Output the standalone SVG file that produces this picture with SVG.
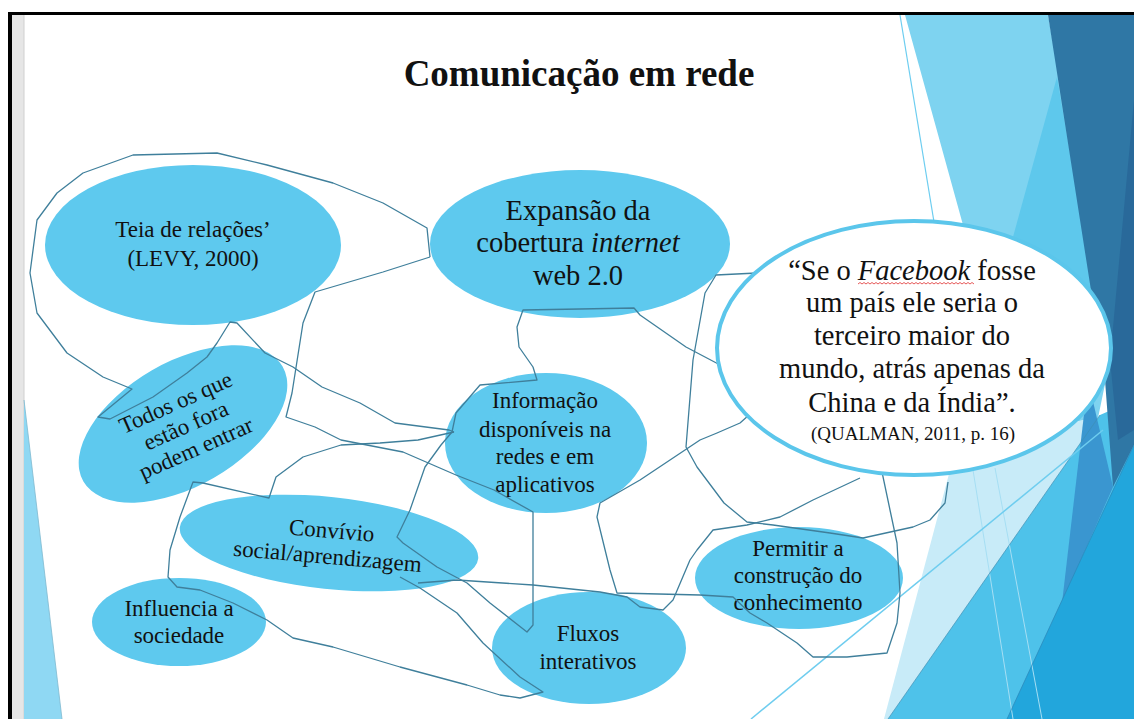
<svg xmlns="http://www.w3.org/2000/svg" width="1134" height="719" viewBox="0 0 1134 719">
<style>
.node{fill:#5ec9ee}
.t{font-family:"Liberation Serif","Times New Roman",serif;fill:#111;text-anchor:middle}
.s23{font-size:23px}
.s28{font-size:28.5px}
.con{fill:none;stroke:#3f7f9b;stroke-width:1.3;stroke-linejoin:round}
</style>
<rect width="1134" height="719" fill="#fff"/>
<!-- frame -->
<rect x="12" y="15" width="12" height="704" fill="#e6e6e6"/>
<line x1="24" y1="15" x2="24" y2="719" stroke="#d0d0d0"/>
<rect x="8" y="12" width="1126" height="3" fill="#000"/>
<rect x="8" y="12" width="4" height="707" fill="#000"/>
<!-- decoration left -->
<polygon points="24,400 62,719 24,719" fill="#8fd8f3"/>
<line x1="24" y1="400" x2="62" y2="719" stroke="#7fb9cf" stroke-width="0.8"/>
<!-- decoration right -->
<g id="decor">
<polygon points="905,15 1048,15 1110,360 1098,418 958,440 963,225" fill="#7ed3f0"/>
<line x1="900" y1="15" x2="934" y2="222" stroke="#6ccdf0" stroke-width="1.2"/>
<polygon points="1057,77 1013,237 990,330 1100,330" fill="#5ec8ec"/>
<polygon points="958,440 1098,418 888,719 884,719" fill="#c8ebf8"/>
<polygon points="888,719 1100,415 1134,400 1134,719" fill="#4ec2ea"/>
<polygon points="1088,380 1062,603 1113,487" fill="#3a96d0"/>
<polygon points="1048,15 1134,15 1134,445 1113,487 1105,380" fill="#2f77a5"/>
<polygon points="1134,100 1110,360 1118,440 1134,430" fill="#29699a"/>
<polygon points="1007,719 1113,490 1134,445 1134,719" fill="#22a6dc"/>
<line x1="973" y1="470" x2="1013" y2="719" stroke="#a6def3" stroke-width="1"/>
<line x1="995" y1="468" x2="1042" y2="719" stroke="#a6def3" stroke-width="1"/>
<line x1="888" y1="719" x2="1100" y2="415" stroke="#3d8fb5" stroke-width="0.7"/>
<line x1="1007" y1="719" x2="1134" y2="445" stroke="#2c86b8" stroke-width="0.7"/>
<line x1="751" y1="719" x2="1103" y2="430" stroke="#6fcdef" stroke-width="1.5"/>
</g>
<!-- title -->
<text class="t" x="579" y="86" font-size="37" font-weight="bold">Comunicação em rede</text>
<!-- nodes -->
<g id="n-teia">
<ellipse class="node" cx="193" cy="245" rx="148" ry="80"/>
<text class="t s23" x="193" y="237">Teia de relações’</text>
<text class="t s23" x="193" y="266">(LEVY, 2000)</text>
</g>
<g id="n-expansao">
<ellipse class="node" cx="580" cy="244" rx="150" ry="74"/>
<text class="t s28" x="578" y="220">Expansão da</text>
<text class="t s28" x="578" y="252">cobertura <tspan font-style="italic">internet</tspan></text>
<text class="t s28" x="578" y="285">web 2.0</text>
</g>
<g id="n-todos">
<ellipse class="node" cx="183" cy="424" rx="115" ry="62" transform="rotate(-30 183 424)"/>
<g transform="translate(186,426) rotate(-24)">
<text class="t s23" x="0" y="-18">Todos os que</text>
<text class="t s23" x="0" y="7">estão fora</text>
<text class="t s23" x="0" y="32">podem entrar</text>
</g>
</g>
<g id="n-informacao">
<ellipse class="node" cx="546" cy="443" rx="101" ry="70"/>
<text class="t s23" x="545" y="408">Informação</text>
<text class="t s23" x="545" y="437">disponíveis na</text>
<text class="t s23" x="545" y="464">redes e em</text>
<text class="t s23" x="545" y="492">aplicativos</text>
</g>
<g id="n-convivio">
<ellipse class="node" cx="329" cy="543" rx="150" ry="46" transform="rotate(6 329 543)"/>
<g transform="rotate(5 329 551)">
<text class="t s23" x="330" y="538">Convívio</text>
<text class="t s23" x="328" y="564">social/aprendizagem</text>
</g>
</g>
<g id="n-influencia">
<ellipse class="node" cx="179" cy="622" rx="87" ry="44"/>
<text class="t s23" x="179" y="616">Influencia a</text>
<text class="t s23" x="179" y="643">sociedade</text>
</g>
<g id="n-fluxos">
<ellipse class="node" cx="589" cy="648" rx="97" ry="56"/>
<text class="t s23" x="588" y="641">Fluxos</text>
<text class="t s23" x="588" y="669">interativos</text>
</g>
<g id="n-permitir">
<ellipse class="node" cx="799" cy="578" rx="104" ry="51"/>
<text class="t s23" x="798" y="556">Permitir a</text>
<text class="t s23" x="798" y="583">construção do</text>
<text class="t s23" x="798" y="610">conhecimento</text>
</g>
<!-- connectors -->
<g id="connectors">
<polyline class="con" points="430,257 427,228 383,203 333,183 267,165 217,153 133,155 83,173 57,193 37,220 30,273 37,313 67,353 103,377 132,389 98,417 110,419 153,397 187,373 207,357 217,343 230,322 237,323 265,353 293,367 322,387 360,403 395,423 449,430 454,432"/>
<polyline class="con" points="454,432 418,440 380,443 341,445 303,457 276,477 269,498 203,483 193,482 180,517 170,550 168,577 177,587 200,590 233,603 267,620 293,638 333,647 400,667 467,685 500,695 520,698 543,692 520,677 483,643 457,613 420,588 400,577"/>
<polyline class="con" points="452,432 441,445 425,467 410,510 397,537 403,543 437,567 467,583 490,603 527,632 533,625 533,512 494,490 456,475 403,452 341,440 315,427 286,417 292,393 303,323 315,292 383,272 430,257"/>
<polyline class="con" points="452,432 456,413 480,385 537,380 533,367 519,347 517,327 523,310 580,309 634,308 640,315 686,347 724,367 753,390 758,407 740,423 717,433 700,440 640,480 600,503 597,517 610,570 617,593 700,595 733,597 750,613 767,623 797,643 813,657 847,657 887,653 897,623 900,593 897,543 890,510 882,472"/>
<polyline class="con" points="418,583 457,580 533,585 600,592 627,597 640,607 663,610 673,600 690,560 697,550 713,530 747,525 780,517 813,500 860,478"/>
<polyline class="con" points="757,273 716,275 705,293 693,360 686,447 697,467 724,503 747,522 773,525 830,533 863,538 913,527 930,520 945,503 948,482"/>
</g>
<!-- quote -->
<g id="n-quote">
<ellipse cx="914" cy="348" rx="197" ry="127" fill="#fff" stroke="#5bc6eb" stroke-width="4"/>
<text class="t s28" x="912" y="280">“Se o <tspan font-style="italic">Facebook</tspan> fosse</text>
<path d="M858,284 l2,-1.5 l2,1.5 l2,-1.5 l2,1.5 l2,-1.5 l2,1.5 l2,-1.5 l2,1.5 l2,-1.5 l2,1.5 l2,-1.5 l2,1.5 l2,-1.5 l2,1.5 l2,-1.5 l2,1.5 l2,-1.5 l2,1.5 l2,-1.5 l2,1.5 l2,-1.5 l2,1.5 l2,-1.5 l2,1.5 l2,-1.5 l2,1.5 l2,-1.5 l2,1.5 l2,-1.5 l2,1.5 l2,-1.5 l2,1.5 l2,-1.5 l2,1.5 l2,-1.5 l2,1.5 l2,-1.5 l2,1.5 l2,-1.5 l2,1.5 l2,-1.5 l2,1.5 l2,-1.5 l2,1.5 l2,-1.5 l2,1.5 l2,-1.5 l2,1.5 l2,-1.5 l2,1.5 l2,-1.5 l2,1.5 l2,-1.5 l2,1.5 l2,-1.5 l2,1.5 l2,-1.5 l2,1.5" fill="none" stroke="#e03030" stroke-width="0.8"/>
<text class="t s28" x="912" y="312">um país ele seria o</text>
<text class="t s28" x="912" y="345">terceiro maior do</text>
<text class="t s28" x="912" y="378">mundo, atrás apenas da</text>
<text class="t s28" x="912" y="412">China e da Índia”.</text>
<text class="t" x="913" y="440" font-size="19">(QUALMAN, 2011, p. 16)</text>
</g>
</svg>
